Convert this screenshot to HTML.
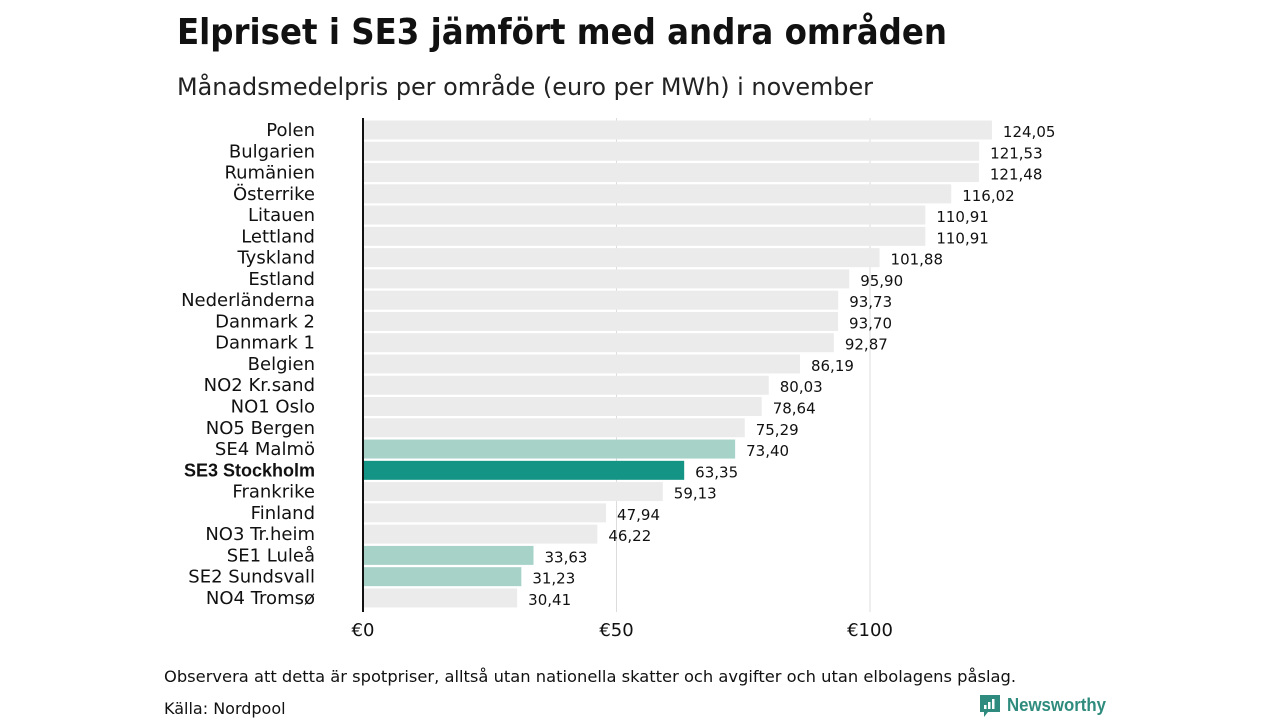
<!DOCTYPE html>
<html><head><meta charset="utf-8"><style>
body{margin:0;background:#fff;width:1280px;height:720px;overflow:hidden;font-family:"Liberation Sans","DejaVu Sans",sans-serif}
</style></head><body>
<svg id="chart" width="1280" height="720" xmlns="http://www.w3.org/2000/svg">
<text x="177" y="44" font-size="36" font-weight="bold" font-family="DejaVu Sans, sans-serif" fill="#111" textLength="770" lengthAdjust="spacingAndGlyphs">Elpriset i SE3 jämfört med andra områden</text>
<text x="177" y="95" font-size="24" font-family="DejaVu Sans, sans-serif" fill="#222" textLength="696" lengthAdjust="spacingAndGlyphs">Månadsmedelpris per område (euro per MWh) i november</text>
<g id="grid"></g><g id="bars"></g><g id="labels"></g>
<line x1="363" y1="118" x2="363" y2="612" stroke="#111" stroke-width="2"/>
<text x="164" y="682" font-size="16" font-family="DejaVu Sans, sans-serif" fill="#111" textLength="852" lengthAdjust="spacingAndGlyphs">Observera att detta är spotpriser, alltså utan nationella skatter och avgifter och utan elbolagens påslag.</text>
<text x="164" y="714" font-size="16" font-family="DejaVu Sans, sans-serif" fill="#111">Källa: Nordpool</text>
<g>
<path d="M980 695h20v17h-12l-4 5v-5h-4z" fill="#2e8b7d"/>
<rect x="984" y="705" width="2.5" height="4" fill="#fff"/><rect x="988" y="702" width="2.5" height="7" fill="#fff"/><rect x="992" y="699" width="2.5" height="10" fill="#fff"/>
<text x="1007" y="711" font-size="18" font-weight="bold" fill="#2e8b7d" textLength="99" lengthAdjust="spacingAndGlyphs">Newsworthy</text>
</g>
</svg>
<script>
const categories=["Polen","Bulgarien","Rumänien","Österrike","Litauen","Lettland","Tyskland","Estland","Nederländerna","Danmark 2","Danmark 1","Belgien","NO2 Kr.sand","NO1 Oslo","NO5 Bergen","SE4 Malmö","SE3 Stockholm","Frankrike","Finland","NO3 Tr.heim","SE1 Luleå","SE2 Sundsvall","NO4 Tromsø"];
const values=[124.05,121.53,121.48,116.02,110.91,110.91,101.88,95.90,93.73,93.70,92.87,86.19,80.03,78.64,75.29,73.40,63.35,59.13,47.94,46.22,33.63,31.23,30.41];
const ticks=[0,50,100];
const tickLabels=["€0","€50","€100"];
const NS="http://www.w3.org/2000/svg";
const x=v=>363+v*5.07;
const y=i=>130+i*21.27;
function mk(t,a,p){const e=document.createElementNS(NS,t);for(const k in a)e.setAttribute(k,a[k]);p.appendChild(e);return e;}
const grid=document.getElementById('grid'),bars=document.getElementById('bars'),labels=document.getElementById('labels');
ticks.forEach((t,i)=>{
 if(t>0){const l=mk('line',{x1:x(t),x2:x(t),y1:118,y2:612,stroke:'#dcdcdc','stroke-width':1},grid);
 
 }
 const tx=mk('text',{x:x(t),y:636,'font-size':18,'text-anchor':'middle',fill:'#111','font-family':'DejaVu Sans, sans-serif'},labels);
 tx.textContent=tickLabels[i];
 
 
});
categories.forEach((c,i)=>{
 const col=c.startsWith('SE3')?'#139484':(c.startsWith('SE')?'#a7d2c8':'#ebebeb');
 const r=mk('rect',{x:364,y:y(i)-9.5,width:x(values[i])-364,height:19,fill:col},bars);
 
 
 const bold=c.startsWith('SE3');
 const l=mk('text',{x:315,y:y(i)+6,'font-size':18,'text-anchor':'end',fill:'#111','font-weight':bold?'bold':'normal','font-family':bold?'Liberation Sans, sans-serif':'DejaVu Sans, sans-serif'},labels);
 l.textContent=c;
 
 
 const v=mk('text',{x:x(values[i])+11,y:y(i)+7,'font-size':15,fill:'#111','font-family':'DejaVu Sans, sans-serif'},labels);
 v.textContent=values[i].toFixed(2).replace('.',',');
 
 
});
</script>
</body></html>
